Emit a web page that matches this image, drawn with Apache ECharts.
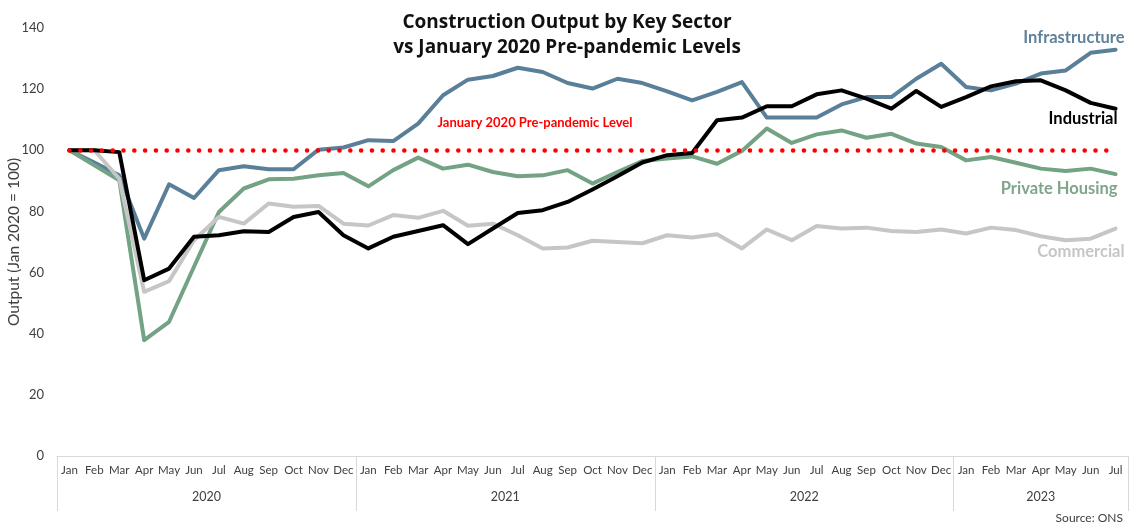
<!DOCTYPE html>
<html>
<head>
  <meta charset="UTF-8">
  <title>Construction Output by Key Sector</title>
  <script src="https://cdn.jsdelivr.net/npm/echarts@6/dist/echarts.min.js"></script>
  <style>
    html, body { margin: 0; padding: 0; background: #fff; }
  </style>
</head>
<body>
  <div id="main" style="width: 1134px; height: 529px;"></div>
  <script>
    // Jan 2020 .. Jul 2023, index = Jan 2020 (100)
    const months = [
      'Jan','Feb','Mar','Apr','May','Jun','Jul','Aug','Sep','Oct','Nov','Dec',
      'Jan','Feb','Mar','Apr','May','Jun','Jul','Aug','Sep','Oct','Nov','Dec',
      'Jan','Feb','Mar','Apr','May','Jun','Jul','Aug','Sep','Oct','Nov','Dec',
      'Jan','Feb','Mar','Apr','May','Jun','Jul'
    ];
    const years = ['2020', '2021', '2022', '2023'];

    const infrastructure = [
      100, 96, 91.8, 71.1, 88.9, 84.4, 93.5, 94.8, 93.8, 93.8, 100.2, 100.9,
      103.3, 103, 108.7, 118, 123.1, 124.3, 127, 125.6, 122, 120.2, 123.4, 122,
      119.3, 116.3, 119.1, 122.3, 110.7, 110.7, 110.7, 115, 117.4, 117.4, 123.4, 128.3,
      120.7, 119.6, 121.8, 125.1, 126.1, 131.9, 132.9
    ];
    const industrial = [
      100, 100, 99.4, 57.5, 61.3, 71.7, 72.2, 73.5, 73.3, 78.2, 79.8, 72.2,
      67.9, 71.7, 73.6, 75.5, 69.3, 74.4, 79.5, 80.4, 83.1, 87.2, 91.5, 96,
      98.4, 99.1, 109.8, 110.7, 114.4, 114.4, 118.3, 119.6, 116.9, 113.6, 119.4, 114.2,
      117.4, 120.9, 122.6, 122.9, 119.6, 115.5, 113.6
    ];
    const privateHousing = [
      100, 95.1, 90.2, 37.9, 43.9, 61.9, 79.8, 87.5, 90.5, 90.7, 91.8, 92.6,
      88.2, 93.5, 97.6, 94, 95.3, 92.9, 91.5, 91.8, 93.5, 89.1, 92.9, 96.5,
      97.3, 98, 95.6, 99.8, 107.1, 102.4, 105.2, 106.5, 104.1, 105.4, 102.2, 101.1,
      96.7, 97.8, 95.9, 94, 93.2, 94, 92.2
    ];
    const commercial = [
      100, 100, 90.7, 53.7, 57.2, 70.6, 78.2, 76, 82.6, 81.5, 81.8, 76,
      75.4, 78.8, 77.9, 80.2, 75.3, 76, 72.2, 67.9, 68.2, 70.4, 70, 69.6,
      72.2, 71.5, 72.5, 67.9, 74.1, 70.6, 75.2, 74.4, 74.7, 73.6, 73.3, 74.1,
      72.8, 74.7, 73.9, 71.9, 70.6, 71.1, 74.4
    ];
    const baseline = 100;

    const FONT = 'Lato, "Noto Sans", sans-serif';
    const yearLabelIdx = [5, 17, 29, 39];

    function lineSeries(name, data, color, labelColor, offset) {
      return {
        name: name,
        type: 'line',
        data: data,
        symbol: 'none',
        lineStyle: { color: color, width: 4, cap: 'round', join: 'round' },
        itemStyle: { color: color },
        endLabel: {
          show: true,
          formatter: name,
          align: 'right',
          distance: 0,
          offset: offset,
          color: labelColor,
          fontFamily: FONT,
          fontWeight: 'bold',
          fontSize: 16.5
        }
      };
    }

    const chart = echarts.init(document.getElementById('main'));
    const option = {
      animation: false,
      backgroundColor: '#fff',
      title: [{
        text: 'Construction Output by Key Sector\nvs January 2020 Pre-pandemic Levels',
        left: 'center',
        top: 5,
        textStyle: { fontFamily: '"Open Sans", Lato, sans-serif', fontSize: 19, fontWeight: 'bold', color: '#111', lineHeight: 25 }
      }, {
        text: 'Source: ONS',
        right: 6,
        bottom: 0,
        textStyle: { fontFamily: FONT, fontSize: 12, fontWeight: 'normal', color: '#404040' }
      }],
      grid: { left: 57, right: 6, top: 28, bottom: 73, outerBoundsMode: 'none' },
      xAxis: [{
        type: 'category',
        data: months,
        boundaryGap: true,
        axisLine: { lineStyle: { color: '#d9d9d9', width: 1 } },
        axisTick: { show: false },
        axisLabel: {
          interval: 0,
          margin: 8,
          fontFamily: FONT,
          fontSize: 11.5,
          color: '#404040'
        }
      }, {
        type: 'category',
        data: months,
        position: 'bottom',
        boundaryGap: true,
        axisLine: { show: false },
        axisTick: {
          show: true,
          length: 55,
          interval: function (i) { return i % 12 === 0; },
          lineStyle: { color: '#d9d9d9', width: 1 }
        },
        axisLabel: {
          interval: function (i) { return yearLabelIdx.indexOf(i) >= 0; },
          margin: 34,
          formatter: function (v, i) {
            const y = years[Math.floor(i / 12)];
            return i % 12 === 5 ? '{s|' + y + '}' : '{c|' + y + '}';
          },
          rich: {
            s: { padding: [0, 0, 0, 25], fontFamily: FONT, fontSize: 12.5, color: '#404040' },
            c: { fontFamily: FONT, fontSize: 12.5, color: '#404040' }
          }
        }
      }],
      yAxis: {
        type: 'value',
        min: 0,
        max: 140,
        interval: 20,
        name: 'Output (Jan 2020 = 100)',
        nameLocation: 'middle',
        nameGap: 35,
        nameMoveOverlap: false,
        nameTextStyle: { fontFamily: FONT, fontSize: 15.5, color: '#404040' },
        axisLine: { show: false },
        axisTick: { show: false },
        splitLine: { show: false },
        axisLabel: { margin: 13, fontFamily: FONT, fontSize: 13, color: '#404040' }
      },
      series: [
        lineSeries('Infrastructure', infrastructure, '#5a7f99', '#5f8199', [9, -12]),
        lineSeries('Private Housing', privateHousing, '#73a285', '#7fa58b', [2, 15]),
        lineSeries('Commercial', commercial, '#c6c6c6', '#c6c6c6', [9, 23]),
        lineSeries('Industrial', industrial, '#000000', '#000000', [2, 10]),
        {
          name: 'Pre-pandemic Level',
          type: 'line',
          data: [],
          z: 5,
          markLine: {
            silent: true,
            symbol: 'none',
            lineStyle: { color: '#ff0000', width: 4.5, type: [0.1, 10.7], cap: 'round' },
            label: {
              show: true,
              position: 'insideStartTop',
              distance: [368, 21],
              formatter: 'January 2020 Pre-pandemic Level',
              color: '#ff0000',
              fontFamily: FONT,
              fontWeight: 'bold',
              fontSize: 13
            },
            data: [[
              { coord: [0, baseline] },
              { coord: [months.length - 1, baseline] }
            ]]
          }
        }
      ]
    };
    chart.setOption(option);
  </script>
</body>
</html>
